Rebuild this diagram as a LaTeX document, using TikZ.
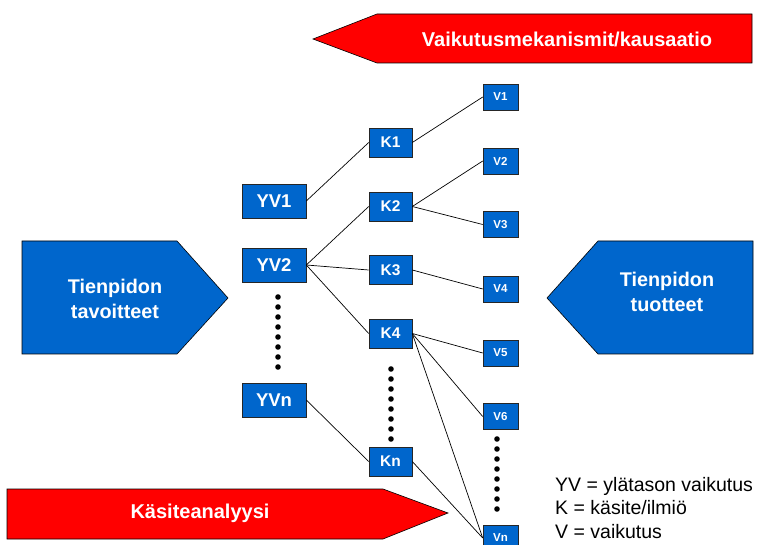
\documentclass[tikz,border=0pt]{standalone}
\usepackage{fontspec}
\setmainfont{Liberation Sans}
\definecolor{boxblue}{RGB}{0,102,204}
\definecolor{arrowred}{RGB}{255,0,0}
\begin{document}
\begin{tikzpicture}[x=1pt,y=-1pt,
  base/.style={fill=boxblue,draw=black!85,line width=0.6pt,text=white,font=\bfseries,inner sep=0pt},
  yvbox/.style={base,minimum width=64pt,minimum height=34pt,font=\bfseries\fontsize{18.5}{20}\selectfont},
  kbox/.style={base,minimum width=43pt,minimum height=29pt,font=\bfseries\fontsize{15.5}{17}\selectfont},
  vbox/.style={base,minimum width=35pt,minimum height=26pt,font=\bfseries\fontsize{11.5}{13}\selectfont},
  link/.style={line width=0.7pt,black},
  bigtext/.style={text=white,font=\bfseries\fontsize{19.8}{25}\selectfont,align=center,inner sep=0pt},
  redtext/.style={text=white,font=\bfseries\fontsize{20}{22}\selectfont,inner sep=0pt},
  legend/.style={font=\fontsize{19.5}{23.5}\selectfont,align=left,inner sep=0pt,anchor=north west}
]
\useasboundingbox (0,0) rectangle (758,545);

% red process arrows
\draw[fill=arrowred,line width=0.6pt] (313,39) -- (377,14) -- (752,14) -- (752,63) -- (377,63) -- cycle;
\node[redtext] (causal) at (567,39) {Vaikutusmekanismit/kausaatio};
\draw[fill=arrowred,line width=0.6pt] (7,489) -- (383,489) -- (448,513) -- (383,539) -- (7,539) -- cycle;
\node[redtext] (concept) at (200,513) {Käsiteanalyysi};

% blue end arrows
\draw[fill=boxblue,line width=0.6pt] (22,241) -- (177,241) -- (228,298) -- (177,354) -- (22,354) -- cycle;
\node[bigtext] (goals) at (115,299) {Tienpidon\\tavoitteet};
\draw[fill=boxblue,line width=0.6pt] (547,298) -- (598,241) -- (753,241) -- (753,354) -- (598,354) -- cycle;
\node[bigtext] (products) at (667,292) {Tienpidon\\tuotteet};

% upper-level effects
\node[yvbox] (yv1) at (274,201) {YV1};
\node[yvbox] (yv2) at (274,265) {YV2};
\node[yvbox] (yvn) at (274,400) {YVn};

% concepts
\node[kbox] (k1) at (390.5,142.5) {K1};
\node[kbox] (k2) at (390.5,206.5) {K2};
\node[kbox] (k3) at (390.5,270) {K3};
\node[kbox] (k4) at (390.5,333.5) {K4};
\node[kbox] (kn) at (390.5,461.5) {Kn};

% effects
\node[vbox] (v1) at (500.5,97) {V1};
\node[vbox] (v2) at (500.5,161) {V2};
\node[vbox] (v3) at (500.5,224.5) {V3};
\node[vbox] (v4) at (500.5,289) {V4};
\node[vbox] (v5) at (500.5,353) {V5};
\node[vbox] (v6) at (500.5,416.5) {V6};
\node[vbox] (vn) at (500.5,538) {Vn};

% links
\draw[link] (yv1.east) -- (k1.west);
\draw[link] (yv2.east) -- (k2.west);
\draw[link] (yv2.east) -- (k3.west);
\draw[link] (yv2.east) -- (k4.west);
\draw[link] (yvn.east) -- (kn.west);
\draw[link] (k1.east) -- (v1.west);
\draw[link] (k2.east) -- (v2.west);
\draw[link] (k2.east) -- (v3.west);
\draw[link] (k3.east) -- (v4.west);
\draw[link] (k4.east) -- (v5.west);
\draw[link] (k4.east) -- (v6.west);
\draw[link] (k4.east) -- (vn.west);
\draw[link] (kn.east) -- (vn.west);

% ellipsis dots
\foreach \i in {0,...,7} {
  \fill (278,297+10*\i) circle (2.8);
  \fill (391,369+10*\i) circle (2.8);
  \fill (497,439+10*\i) circle (2.8);
}

% legend
\node[legend] (key) at (555,477) {YV = ylätason vaikutus\\K = käsite/ilmiö\\V = vaikutus};
\end{tikzpicture}
\end{document}
